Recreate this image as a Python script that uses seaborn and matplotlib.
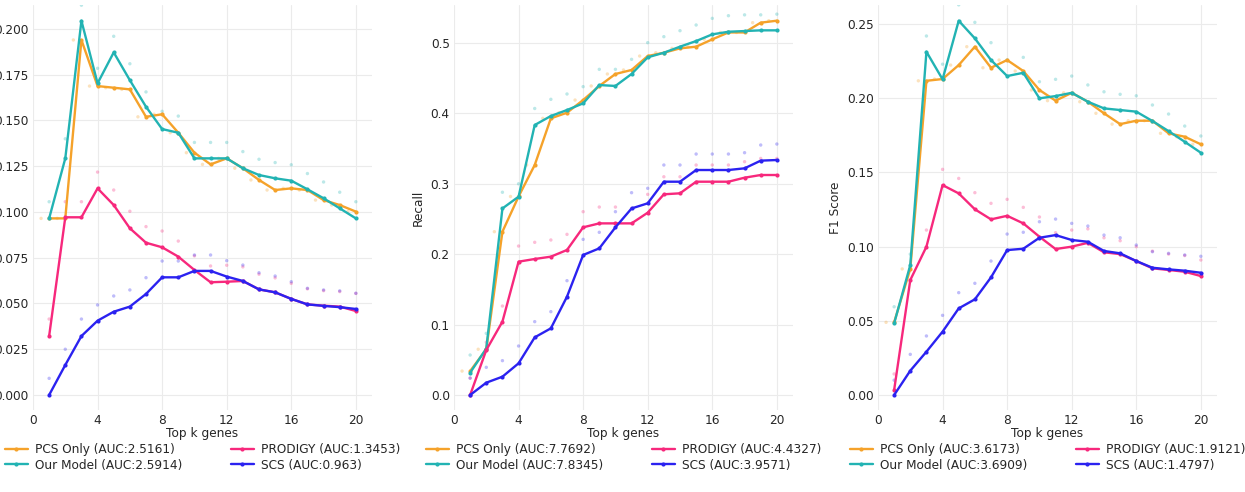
import seaborn as sns
import matplotlib.pyplot as plt
import pandas as pd
import numpy as np

# Top k genes
k = list(range(1, 21))

methods = ['PCS Only', 'Our Model', 'PRODIGY', 'SCS']
colors = ['#f5a22a', '#22b3b3', '#f7287c', '#2b22f0']

# Precision
prec_pcs = [0.0965, 0.0965, 0.194, 0.1688, 0.1679, 0.167, 0.152, 0.1534, 0.1433, 0.1324,
            0.126, 0.1293, 0.1239, 0.1175, 0.112, 0.1129, 0.112, 0.1065, 0.1038, 0.1002]
prec_our = [0.0965, 0.1293, 0.2045, 0.1703, 0.1872, 0.172, 0.1575, 0.1453, 0.1433, 0.1293,
            0.1293, 0.1293, 0.1239, 0.1202, 0.1184, 0.1171, 0.1124, 0.1075, 0.102, 0.0965]
prec_prodigy = [0.0322, 0.0971, 0.0971, 0.1129, 0.1038, 0.0911, 0.0832, 0.0807, 0.0756, 0.0683,
                0.0616, 0.0619, 0.0623, 0.0577, 0.0561, 0.0525, 0.0495, 0.0488, 0.0483, 0.0459]
prec_scs = [0.0, 0.0164, 0.0322, 0.0406, 0.0455, 0.0483, 0.0552, 0.0643, 0.0643, 0.0678,
            0.0678, 0.0647, 0.0623, 0.0577, 0.0561, 0.0525, 0.0495, 0.0487, 0.048, 0.047]
prec_our_pts = [0.1056, 0.14, 0.213, 0.1785, 0.196, 0.181, 0.1656, 0.155, 0.1524, 0.138,
                0.138, 0.138, 0.133, 0.1288, 0.127, 0.1258, 0.121, 0.1164, 0.1108, 0.1056]
prec_prodigy_pts = [0.0415, 0.1056, 0.1056, 0.1218, 0.112, 0.1004, 0.092, 0.0896, 0.0841, 0.076,
                    0.0705, 0.0709, 0.07, 0.066, 0.064, 0.061, 0.058, 0.057, 0.0565, 0.0555]
prec_scs_pts = [0.0091, 0.025, 0.0415, 0.0492, 0.0541, 0.0574, 0.0641, 0.0732, 0.0732, 0.0765,
                0.0765, 0.0734, 0.071, 0.0668, 0.065, 0.0619, 0.0583, 0.0574, 0.0569, 0.0556]
prec_auc = ['2.5161', '2.5914', '1.3453', '0.963']

# Recall
rec_pcs = [0.034, 0.065, 0.232, 0.282, 0.3267, 0.393, 0.401, 0.419, 0.439, 0.456,
           0.4617, 0.4815, 0.4862, 0.4924, 0.4948, 0.5052, 0.515, 0.515, 0.5289, 0.5317]
rec_our = [0.0317, 0.066, 0.265, 0.2817, 0.3835, 0.3963, 0.4048, 0.4143, 0.4403, 0.439,
           0.456, 0.4797, 0.4862, 0.4948, 0.5028, 0.5123, 0.516, 0.517, 0.518, 0.518]
rec_prodigy = [0.0, 0.0639, 0.1042, 0.1894, 0.1932, 0.1965, 0.206, 0.2382, 0.2438, 0.2438,
               0.2438, 0.259, 0.2851, 0.2865, 0.303, 0.303, 0.303, 0.3087, 0.3125, 0.3125]
rec_scs = [0.0, 0.0175, 0.026, 0.045, 0.0819, 0.0947, 0.1397, 0.1989, 0.2083, 0.2382,
           0.265, 0.2723, 0.303, 0.303, 0.3196, 0.3196, 0.3196, 0.322, 0.3329, 0.3338]
rec_our_pts = [0.0568, 0.0876, 0.288, 0.30, 0.407, 0.42, 0.4276, 0.438, 0.4626, 0.4626,
               0.4768, 0.5005, 0.509, 0.5175, 0.5256, 0.535, 0.5388, 0.54, 0.54, 0.541]
rec_prodigy_pts = [0.024, 0.075, 0.1264, 0.2116, 0.2169, 0.2202, 0.2282, 0.2604, 0.267, 0.267,
                   0.265, 0.285, 0.31, 0.31, 0.3267, 0.3267, 0.3267, 0.3314, 0.336, 0.336]
rec_scs_pts = [0.024, 0.0393, 0.0488, 0.0696, 0.1042, 0.1184, 0.1624, 0.2211, 0.2311, 0.2604,
               0.2874, 0.2936, 0.3267, 0.3267, 0.3423, 0.3423, 0.3423, 0.3442, 0.3551, 0.3565]
rec_auc = ['7.7692', '7.8345', '4.4327', '3.9571']

# F1 score
f1_pcs = [0.049, 0.085, 0.2118, 0.213, 0.2224, 0.2348, 0.2206, 0.2258, 0.2184, 0.2056,
          0.1984, 0.2037, 0.1977, 0.1899, 0.1826, 0.1849, 0.1849, 0.1764, 0.1741, 0.169]
f1_our = [0.0483, 0.0876, 0.2314, 0.2128, 0.2523, 0.2404, 0.2258, 0.215, 0.2172, 0.2,
          0.2015, 0.2037, 0.1977, 0.1932, 0.1921, 0.191, 0.1847, 0.1779, 0.1707, 0.1633]
f1_prodigy = [0.0034, 0.0775, 0.1, 0.1415, 0.1359, 0.1252, 0.1184, 0.1208, 0.1157, 0.1067,
              0.0984, 0.1, 0.1026, 0.0962, 0.095, 0.0903, 0.0854, 0.0843, 0.0831, 0.0802]
f1_scs = [0.0, 0.0164, 0.0292, 0.0427, 0.0584, 0.0645, 0.0793, 0.0977, 0.0986, 0.106,
          0.1078, 0.1045, 0.1033, 0.0971, 0.0955, 0.0903, 0.0858, 0.0847, 0.0838, 0.0824]
f1_our_pts = [0.0595, 0.095, 0.242, 0.223, 0.263, 0.2512, 0.2375, 0.226, 0.2276, 0.2112,
              0.2128, 0.215, 0.209, 0.2044, 0.2027, 0.2017, 0.1955, 0.1894, 0.1813, 0.1746]
f1_prodigy_pts = [0.0142, 0.085, 0.1112, 0.1521, 0.146, 0.1364, 0.1292, 0.1319, 0.1265, 0.12,
                  0.1094, 0.1112, 0.112, 0.106, 0.104, 0.1, 0.097, 0.095, 0.094, 0.091]
f1_scs_pts = [0.01, 0.0274, 0.0398, 0.0537, 0.069, 0.0753, 0.0903, 0.1085, 0.1097, 0.1168,
              0.1186, 0.1157, 0.1139, 0.1078, 0.106, 0.1011, 0.0966, 0.0955, 0.0944, 0.0935]
f1_auc = ['3.6173', '3.6909', '1.9121', '1.4797']

# the first panel's y label falls outside the cropped figure, so it is left blank
panels = [
    ('', [prec_pcs, prec_our, prec_prodigy, prec_scs],
     [prec_our_pts, prec_prodigy_pts, prec_scs_pts], prec_auc,
     np.arange(0, 0.201, 0.025), (-0.0082, 0.2131), '{:.3f}'),
    ('Recall', [rec_pcs, rec_our, rec_prodigy, rec_scs],
     [rec_our_pts, rec_prodigy_pts, rec_scs_pts], rec_auc,
     np.arange(0, 0.51, 0.1), (-0.0213, 0.554), '{:.1f}'),
    ('F1 Score', [f1_pcs, f1_our, f1_prodigy, f1_scs],
     [f1_our_pts, f1_prodigy_pts, f1_scs_pts], f1_auc,
     np.arange(0, 0.251, 0.05), (-0.0101, 0.2629), '{:.2f}'),
]

sns.set_style('whitegrid', {'grid.color': '#ebebeb', 'axes.edgecolor': 'white'})
plt.rcParams['font.family'] = ['DejaVu Sans']

fig = plt.figure(figsize=(12.45, 4.92), dpi=100)
lefts = [33, 454, 878]

for i, (name, lines, pts, auc, yticks, ylim, fmt) in enumerate(panels):
    ax = fig.add_axes([lefts[i] / 1245, 82 / 492, 339 / 1245, 405 / 492])

    labels = [f'{m} (AUC:{a})' for m, a in zip(methods, auc)]
    df = pd.DataFrame({
        'k': k * 4,
        'value': sum(lines, []),
        'method': np.repeat(labels, len(k)),
    })

    # faint points: PCS Only sits half a step left, others on the grid
    pts_df = pd.DataFrame({
        'k': [x - 0.5 for x in k] + k * 3,
        'value': lines[0] + sum(pts, []),
        'method': np.repeat(labels, len(k)),
    })
    sns.scatterplot(data=pts_df, x='k', y='value', hue='method', hue_order=labels,
                    palette=colors, s=6, alpha=0.3, linewidth=0, legend=False, ax=ax)

    sns.lineplot(data=df, x='k', y='value', hue='method', hue_order=labels,
                 palette=colors, marker='o', markersize=3, markeredgewidth=0,
                 linewidth=1.7, ax=ax)

    ax.set_xlim(0, 21)
    ax.set_xticks([0, 4, 8, 12, 16, 20])
    ax.set_ylim(*ylim)
    ax.set_yticks(yticks)
    ax.set_yticklabels([fmt.format(v) for v in yticks])
    ax.tick_params(labelsize=8.7, pad=3, length=0)
    ax.set_xlabel('Top k genes', fontsize=8.7, labelpad=0)
    ax.set_ylabel(name, fontsize=8.7)
    for s in ax.spines.values():
        s.set_visible(False)

    ax.legend(loc='upper center', bbox_to_anchor=(0.5, -0.055), ncol=2, frameon=False,
              fontsize=8.7, handlelength=1.9, handletextpad=0.6, columnspacing=4,
              labelspacing=0.2)

fig.savefig('out.png', dpi=100)
